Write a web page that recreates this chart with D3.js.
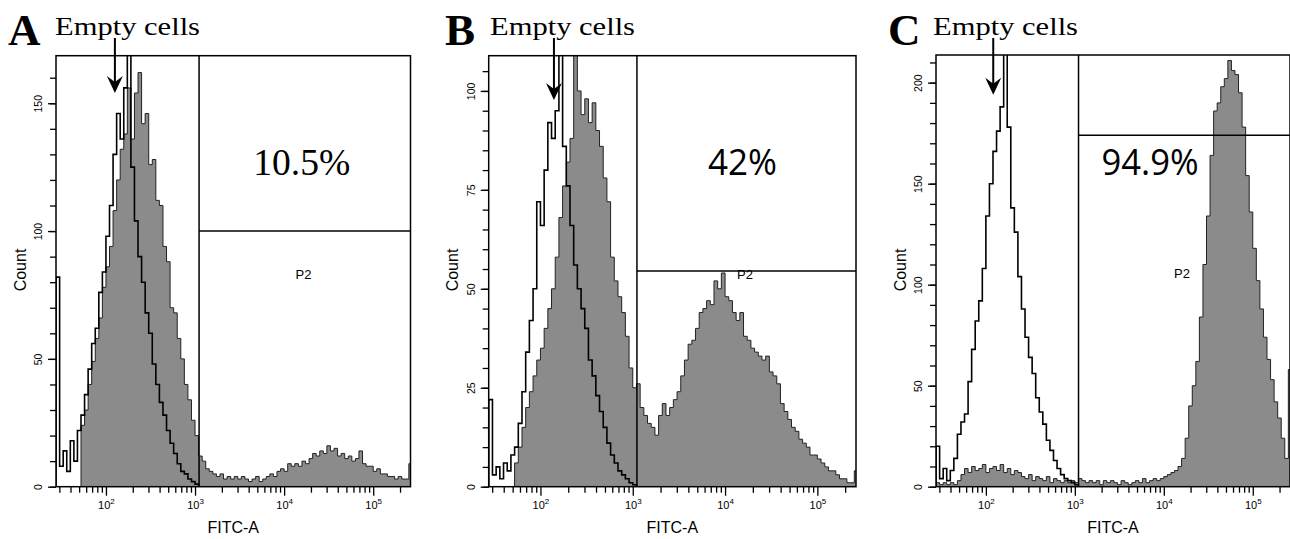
<!DOCTYPE html>
<html><head><meta charset="utf-8">
<script src="https://cdn.jsdelivr.net/npm/d3@7"></script>
<style>body{margin:0;background:#fff;} svg{display:block}</style>
</head><body><svg id="chart" width="1290" height="539"></svg>
<script>
// ---------------- DATA ----------------
const panelLetters = ["A", "B", "C"];
const titleText = "Empty cells";
const percentLabels = ["10.5%", "42%", "94.9%"];
const gateName = "P2";
const xLabel = "FITC-A";
const yLabel = "Count";
const xDomain = [27.5, 262144];
const xMajorTicks = [100, 1000, 10000, 100000];
const xMajorExp = ["2", "3", "4", "5"];
const yMax = [168.6, 108.9, 213.7];
const yMajorTicks = [[0, 50, 100, 150], [0, 25, 50, 75, 100], [0, 50, 100, 150, 200]];
const yMinorTicks = [
  [0,10,20,30,40,50,60,70,80,90,100,110,120,130,140,150,160],
  [0,5,10,15,20,25,30,35,40,45,50,55,60,65,70,75,80,85,90,95,100,105],
  [0,10,20,30,40,50,60,70,80,90,100,110,120,130,140,150,160,170,180,190,200,210]
];
const gateLow = [1110, 1110, 1100];        // P2 gate lower bound (FITC-A)
const gateLevel = [100, 54.5, 174];        // height of the P2 marker line (Count)
const arrowX = [126, 140, 121];            // FITC-A value the arrow points at
const arrowTip = [154, 97.7, 194];         // Count value at arrow tip
// histogram bins: log10(FITC-A) start and width
const binLogStart = 1.44;
const binLogWidth = 0.04;

// Panel A
const sampleA = [0,0,0,0,0,0,0,
  24,30,40,49,58,66,78,
  86,94,108,120,132,138,156,
  136,154,162,142,146,126,128,
  112,110,94,88,70,68,58,
  50,40,34,26,20,12,10,
  7,6,5,4,5,3,4,
  3,4,3,4,3,2,3,
  4,2,3,4,5,4,6,
  7,6,9,8,9,8,10,
  9,11,13,12,14,13,16,
  14,15,12,13,11,12,10,
  11,14,9,8,8,6,7,
  5,5,4,4,3,4,3,
  3,9];
const controlA = [82,8,14,6,18,10,22,
  28,36,46,56,62,76,84,
  98,110,130,146,136,156,180,
  125,104,90,80,68,60,48,
  40,33,28,22,17,13,9,
  6,5,3,2,1,0,0,
  0,0,0,0,0,0,0, 0,0,0,0,0,0,0, 0,0,0,0,0,0,0, 0,0,0,0,0,0,0,
  0,0,0,0,0,0,0, 0,0,0,0,0,0,0, 0,0,0,0,0,0,0, 0,0,0,0,0,0,0, 0,0];

// Panel B
const sampleB = [0,0,0,0,0,0,0,
  6,10,15,20,24,28,32,
  35,40,45,50,58,68,76,
  82,88,115,100,94,98,92,
  97,90,86,78,72,58,52,
  48,44,38,30,25,26,20,
  18,16,15,13,18,21,18,
  20,22,24,28,32,36,37,
  40,44,45,47,46,52,50,
  54,48,47,44,42,44,38,
  37,35,34,33,32,33,29,
  28,26,21,19,17,15,14,
  12,11,10,8,8,7,6,
  5,4,4,3,2,2,1,
  1,4];
const controlB = [22,3,5,2,6,4,8,
  10,16,24,34,42,50,72,
  66,80,92,88,95,115,86,
  76,66,56,50,45,40,32,
  28,23,19,15,11,8,6,
  4,3,2,1,0.5,0,0,
  0,0,0,0,0,0,0, 0,0,0,0,0,0,0, 0,0,0,0,0,0,0, 0,0,0,0,0,0,0,
  0,0,0,0,0,0,0, 0,0,0,0,0,0,0, 0,0,0,0,0,0,0, 0,0,0,0,0,0,0, 0,0];

// Panel C
const sampleC = [2,1,2,1,2,1,3,
  6,9,7,10,8,9,11,
  7,9,10,8,11,7,9,
  6,8,7,5,4,6,3,
  5,4,3,5,2,4,3,
  2,3,2,3,2,4,3,
  2,3,2,3,1,3,2,
  3,2,1,3,2,1,2,
  3,2,4,2,3,4,3,
  4,5,6,7,8,10,14,
  24,40,50,62,84,110,134,
  164,186,190,198,202,211,206,
  204,195,178,154,136,118,102,
  88,74,63,53,42,34,24,
  14,58];
const controlC = [20,4,9,3,8,14,26,
  32,36,52,68,82,92,108,
  134,150,166,176,188,220,178,
  138,126,104,88,74,64,56,
  44,37,31,23,18,13,9,
  6,4,3,2,1,0,0,
  0,0,0,0,0,0,0, 0,0,0,0,0,0,0, 0,0,0,0,0,0,0, 0,0,0,0,0,0,0,
  0,0,0,0,0,0,0, 0,0,0,0,0,0,0, 0,0,0,0,0,0,0, 0,0,0,0,0,0,0, 0,0];

const samples = [sampleA, sampleB, sampleC];
const controls = [controlA, controlB, controlC];

// ---------------- LAYOUT / STYLE ----------------
const layout = [
  {left: 56,    right: 410.5, top: 55.7, bottom: 486.7, letterX: 8,   titleX: 55,  pctX: 301.7, pctFont: "'Liberation Serif', 'Times New Roman', serif", pctSize: 38, pctW: 97, p2x: 303.5, p2y: 274},
  {left: 488.7, right: 856,   top: 55.7, bottom: 486.7, letterX: 445, titleX: 490, pctX: 742.5, pctFont: "'Open Sans', 'DejaVu Sans', sans-serif", pctSize: 37, pctW: 69, p2x: 745, p2y: 274},
  {left: 936,   right: 1290,  top: 55,   bottom: 486.7, letterX: 888, titleX: 933, pctX: 1150,  pctFont: "'Open Sans', 'DejaVu Sans', sans-serif", pctSize: 37, pctW: 97, p2x: 1182, p2y: 273}
];
const grayFill = "#8b8b8b";
const sansFont = "'Liberation Sans', Arial, sans-serif";
const serifFont = "'Liberation Serif', 'Times New Roman', serif";

const svg = d3.select("#chart");

panelLetters.forEach((letter, p) => {
  const L = layout[p];
  const x = d3.scaleLog().domain(xDomain).range([L.left, L.right]);
  const y = d3.scaleLinear().domain([0, yMax[p]]).range([L.bottom, L.top]);
  const g = svg.append("g");

  const clipId = "clip" + p;
  svg.append("clipPath").attr("id", clipId).append("rect")
    .attr("x", L.left).attr("y", L.top)
    .attr("width", L.right - L.left).attr("height", L.bottom - L.top);

  const plot = g.append("g").attr("clip-path", `url(#${clipId})`);

  function pts(values) {
    const arr = values.map((v, i) => [binLogStart + i * binLogWidth, v]);
    const end = binLogStart + values.length * binLogWidth;
    arr.push([end, values[values.length - 1]]);
    return arr;
  }
  const xs = d => x(Math.pow(10, d[0]));

  // sample: filled gray histogram with dark outline
  const sp = pts(samples[p]);
  const area = d3.area().x(xs).y0(y(0)).y1(d => y(d[1])).curve(d3.curveStepAfter);
  plot.append("path").attr("d", area(sp)).attr("fill", grayFill);
  const outline = d3.line().x(xs).y(d => y(d[1])).curve(d3.curveStepAfter);
  const spo = [[sp[0][0], 0]].concat(sp).concat([[sp[sp.length - 1][0], 0]]);
  plot.append("path").attr("d", outline(spo)).attr("fill", "none")
    .attr("stroke", "#222").attr("stroke-width", 1);

  // control (empty cells): black open outline
  const cp = pts(controls[p]);
  const cpo = [[cp[0][0], 0]].concat(cp).concat([[cp[cp.length - 1][0], 0]]);
  plot.append("path").attr("d", outline(cpo)).attr("fill", "none")
    .attr("stroke", "#000").attr("stroke-width", 1.6);

  // P2 gate
  const gx = x(gateLow[p]);
  g.append("line").attr("x1", gx).attr("x2", gx).attr("y1", L.top).attr("y2", L.bottom)
    .attr("stroke", "#000").attr("stroke-width", 1.5);
  g.append("line").attr("x1", gx).attr("x2", L.right).attr("y1", y(gateLevel[p])).attr("y2", y(gateLevel[p]))
    .attr("stroke", "#000").attr("stroke-width", 1.5);

  // box
  g.append("rect").attr("x", L.left).attr("y", L.top)
    .attr("width", L.right - L.left).attr("height", L.bottom - L.top)
    .attr("fill", "none").attr("stroke", "#000").attr("stroke-width", 1.5);

  // x axis
  const xMinor = [];
  [10, 100, 1000, 10000, 100000].forEach(dec => {
    for (let k = 1; k <= 9; k++) {
      const v = dec * k;
      if (v >= 30 && v <= 200000 && xMajorTicks.indexOf(v) < 0) xMinor.push(v);
    }
  });
  const xAxisMinor = g.append("g").attr("transform", `translate(0,${L.bottom})`)
    .call(d3.axisBottom(x).tickValues(xMinor).tickSize(6).tickFormat(""));
  const xAxisMajor = g.append("g").attr("transform", `translate(0,${L.bottom})`)
    .call(d3.axisBottom(x).tickValues(xMajorTicks).tickSize(9).tickPadding(4).tickFormat(""));
  [xAxisMinor, xAxisMajor].forEach(a => {
    a.select(".domain").remove();
    a.selectAll("line").attr("stroke", "#000").attr("stroke-width", 1.3);
  });
  xAxisMajor.selectAll(".tick").each(function (d, i) {
    const t = d3.select(this).select("text");
    t.text(null).attr("y", 22).attr("dy", null)
      .attr("font-family", sansFont).attr("font-size", 11).attr("fill", "#000")
      .attr("text-anchor", "middle");
    t.append("tspan").text("10");
    t.append("tspan").attr("dy", -5).attr("font-size", 8).text(xMajorExp[i]);
  });

  // y axis
  const yAxisMinor = g.append("g").attr("transform", `translate(${L.left},0)`)
    .call(d3.axisLeft(y).tickValues(yMinorTicks[p]).tickSize(6).tickFormat(""));
  const yAxisMajor = g.append("g").attr("transform", `translate(${L.left},0)`)
    .call(d3.axisLeft(y).tickValues(yMajorTicks[p]).tickSize(8).tickFormat(d => d));
  [yAxisMinor, yAxisMajor].forEach(a => {
    a.select(".domain").remove();
    a.selectAll("line").attr("stroke", "#000").attr("stroke-width", 1.3);
  });
  yAxisMajor.selectAll("text")
    .attr("transform", "rotate(-90)")
    .attr("x", 0).attr("y", -17.5).attr("dy", "0.35em")
    .attr("text-anchor", "middle")
    .attr("font-family", sansFont).attr("font-size", 10.5).attr("fill", "#000");

  // axis titles
  g.append("text").attr("x", (L.left + L.right) / 2).attr("y", 533)
    .attr("text-anchor", "middle").attr("font-family", sansFont).attr("font-size", 16)
    .text(xLabel);
  g.append("text").attr("transform", `translate(${L.left - 36},270) rotate(-90)`)
    .attr("text-anchor", "middle").attr("dy", "0.35em")
    .attr("font-family", sansFont).attr("font-size", 16)
    .text(yLabel);

  // panel letter + title
  g.append("text").attr("x", L.letterX).attr("y", 45)
    .attr("font-family", serifFont).attr("font-weight", "bold").attr("font-size", 45)
    .text(letter);
  g.append("text").attr("x", L.titleX).attr("y", 34.5)
    .attr("font-family", serifFont).attr("font-size", 26)
    .attr("textLength", 145).attr("lengthAdjust", "spacingAndGlyphs")
    .text(titleText);

  // arrow
  const ax = x(arrowX[p]);
  const tipY = y(arrowTip[p]);
  g.append("line").attr("x1", ax).attr("x2", ax).attr("y1", 38).attr("y2", tipY - 6)
    .attr("stroke", "#000").attr("stroke-width", 2);
  g.append("path")
    .attr("d", `M${ax},${tipY} L${ax - 8},${tipY - 17} L${ax},${tipY - 11} L${ax + 8},${tipY - 17} Z`)
    .attr("fill", "#000");

  // percentage and gate name
  g.append("text").attr("x", L.pctX).attr("y", 175)
    .attr("text-anchor", "middle").attr("font-family", L.pctFont).attr("font-size", L.pctSize)
    .attr("textLength", L.pctW).attr("lengthAdjust", "spacingAndGlyphs")
    .text(percentLabels[p]);
  g.append("text").attr("x", L.p2x).attr("y", L.p2y).attr("dy", "0.35em")
    .attr("text-anchor", "middle").attr("font-family", sansFont).attr("font-size", 13)
    .text(gateName);
});
</script></body></html>
